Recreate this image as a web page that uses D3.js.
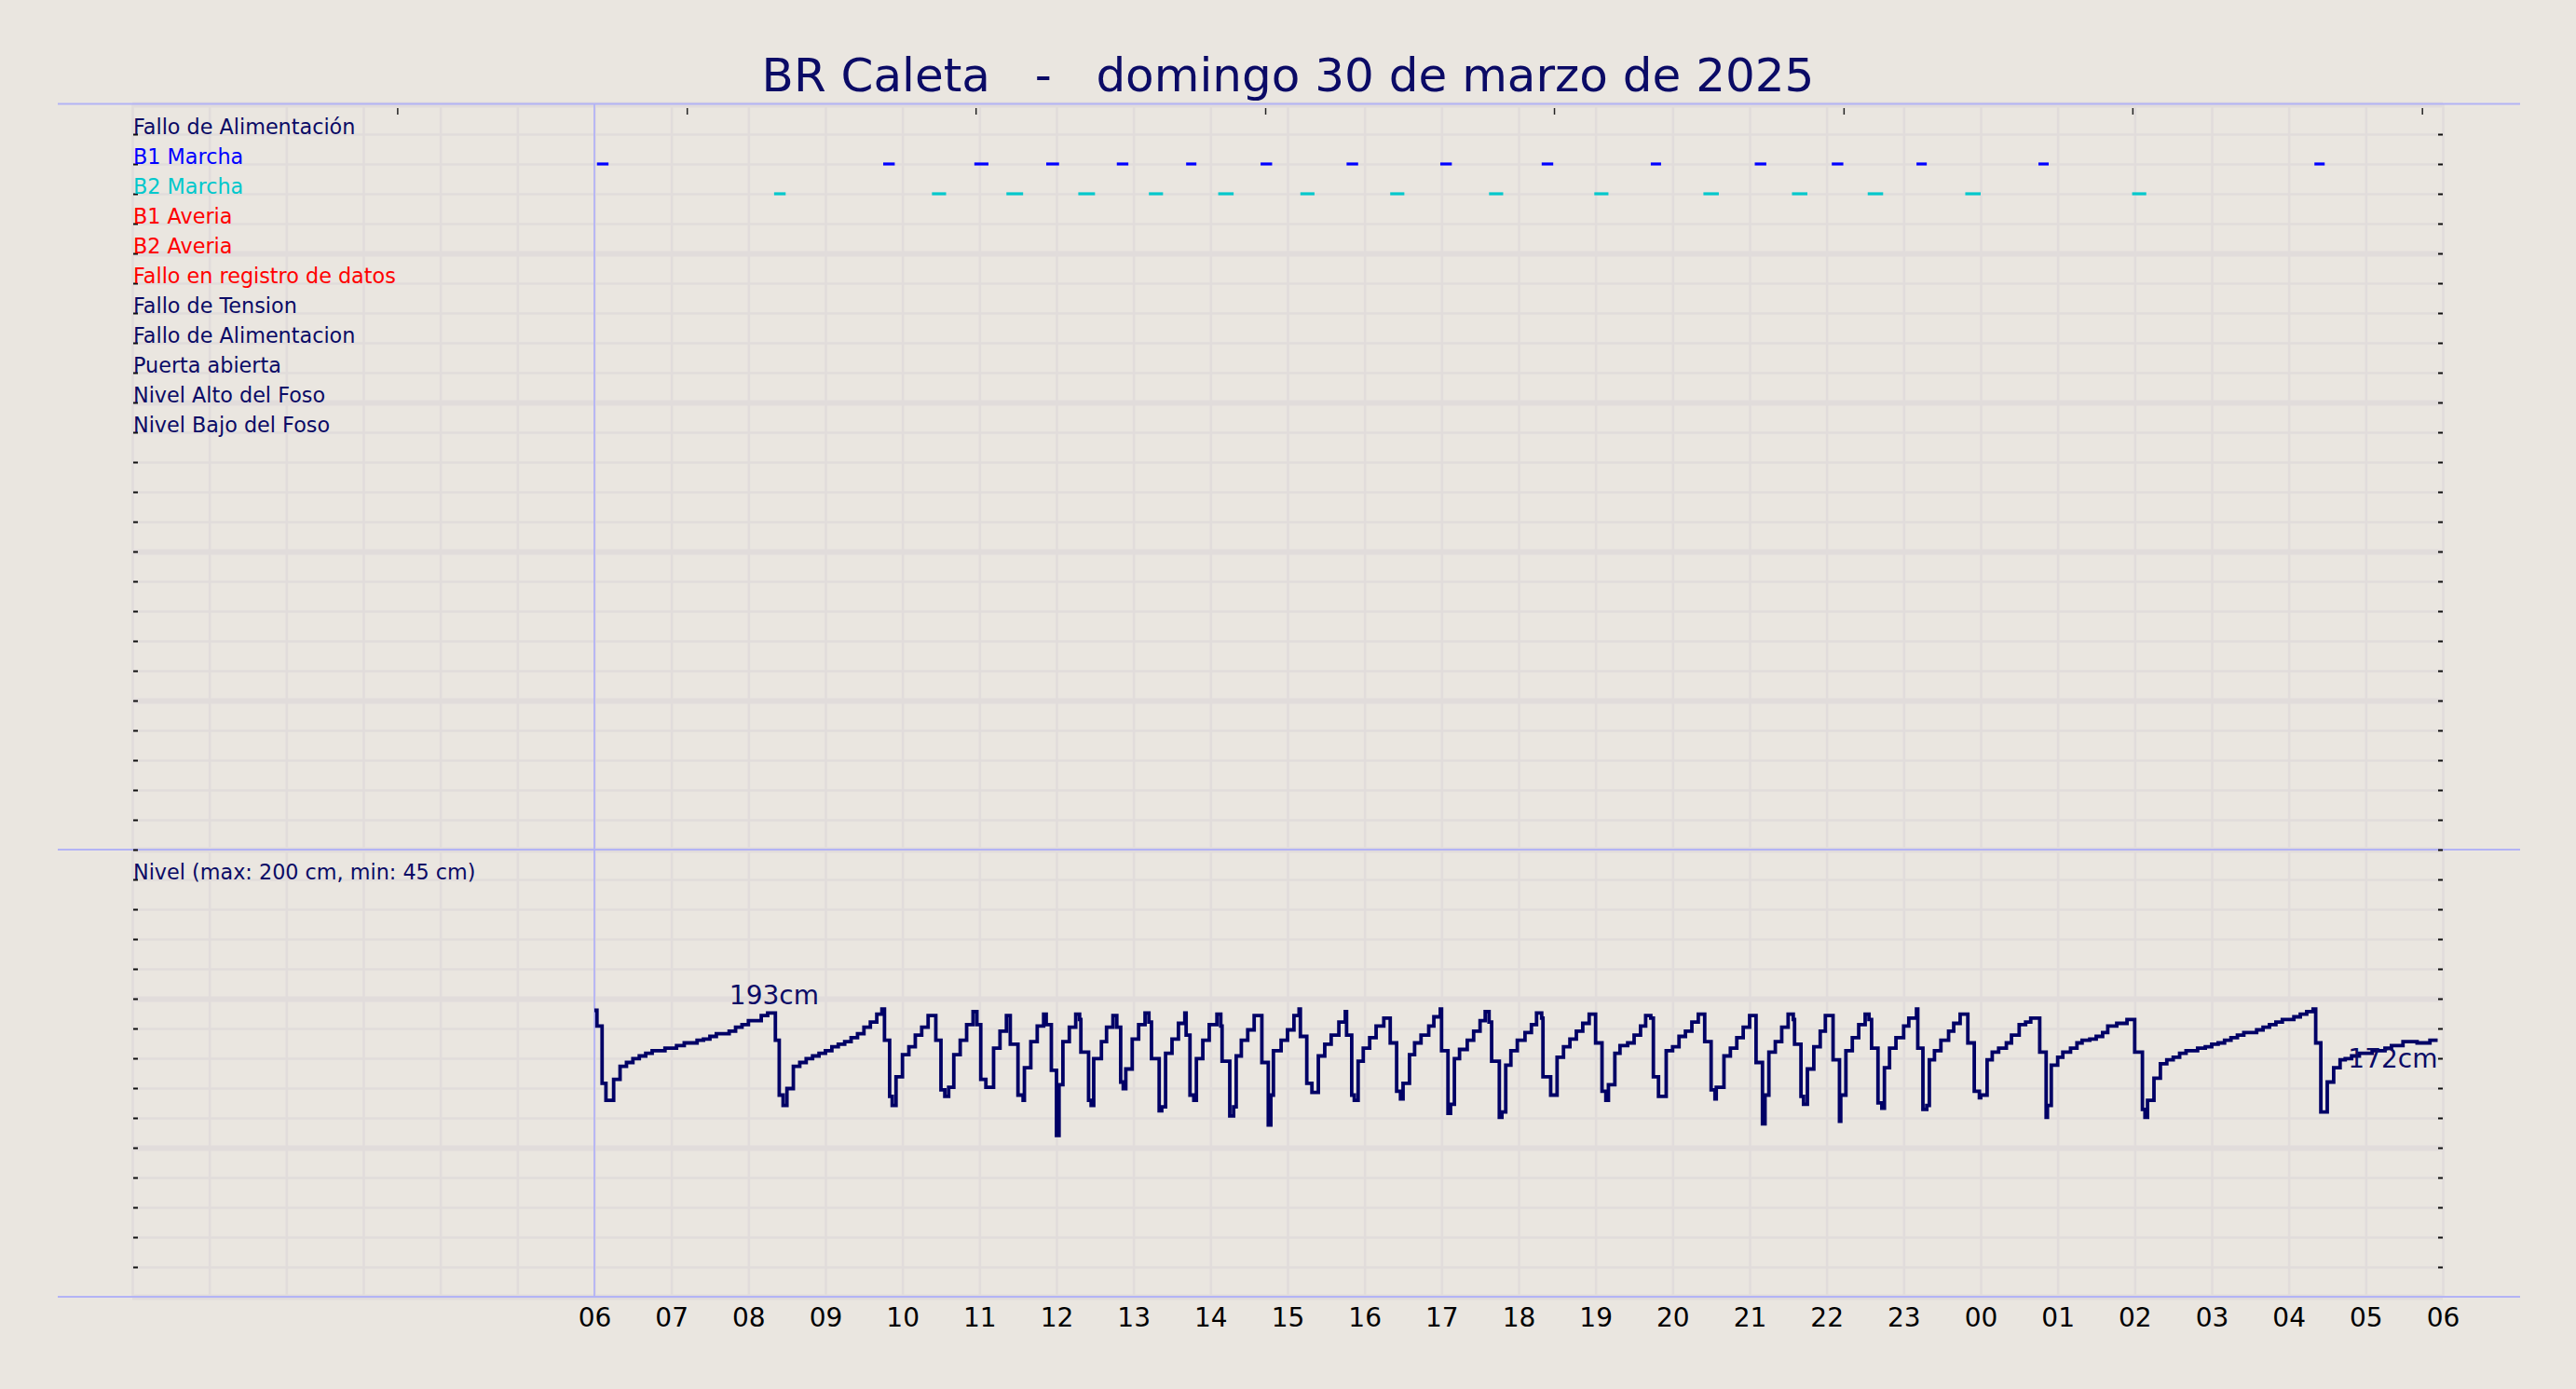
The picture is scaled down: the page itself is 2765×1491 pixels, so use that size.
<!DOCTYPE html>
<html>
<head>
<meta charset="utf-8">
<script src="https://cdn.jsdelivr.net/npm/d3@7"></script>
<style>
  body { margin: 0; background: #eae6e0; }
  svg { display: block; font-family: "DejaVu Sans", sans-serif; }
</style>
</head>
<body>
<svg id="chart" width="2765" height="1491"></svg>
<script>
const title = "BR Caleta   -   domingo 30 de marzo de 2025";

const eventLabels = [
  "Fallo de Alimentación",
  "B1 Marcha",
  "B2 Marcha",
  "B1 Averia",
  "B2 Averia",
  "Fallo en registro de datos",
  "Fallo de Tension",
  "Fallo de Alimentacion",
  "Puerta abierta",
  "Nivel Alto del Foso",
  "Nivel Bajo del Foso",
];
const eventColors = [
  "#0b0b66", "#0000ff", "#00c8cc", "#ff0000", "#ff0000", "#ff0000",
  "#0b0b66", "#0b0b66", "#0b0b66", "#0b0b66", "#0b0b66",
];

// pump runs [start, end]
const b1Runs = [
  ["06:02", "06:11"], ["09:45", "09:54"], ["10:56", "11:07"], ["11:52", "12:02"],
  ["12:47", "12:56"], ["13:41", "13:49"], ["14:39", "14:48"], ["15:46", "15:55"],
  ["16:59", "17:08"], ["18:18", "18:27"], ["19:43", "19:51"], ["21:04", "21:13"],
  ["22:04", "22:13"], ["23:10", "23:18"], ["00:45", "00:53"], ["04:20", "04:28"],
];
const b2Runs = [
  ["08:20", "08:29"], ["10:23", "10:34"], ["11:21", "11:34"], ["12:17", "12:30"],
  ["13:12", "13:23"], ["14:06", "14:18"], ["15:10", "15:21"], ["16:20", "16:31"],
  ["17:37", "17:48"], ["18:59", "19:10"], ["20:24", "20:36"], ["21:33", "21:45"],
  ["22:32", "22:44"], ["23:48", "00:00"], ["01:58", "02:09"],
];

// level readings (cm)
const levelTimes = [
  "06:00","06:02","06:06","06:09","06:15","06:20","06:25","06:30","06:35","06:40",
  "06:45","06:55","07:04","07:10","07:20","07:25","07:30","07:35","07:45","07:50",
  "07:55","08:00","08:10","08:15","08:21","08:24","08:27","08:30","08:35","08:40",
  "08:45","08:50","08:55","09:00","09:05","09:10","09:15","09:20","09:25","09:30",
  "09:35","09:40","09:44","09:46","09:50","09:52","09:55","10:00","10:05","10:10",
  "10:15","10:20","10:26","10:30","10:33","10:36","10:40","10:45","10:50","10:55",
  "10:58","11:01","11:05","11:11","11:16","11:21","11:24","11:30","11:34","11:35",
  "11:40","11:45","11:50","11:52","11:56","12:00","12:02","12:05","12:10","12:15",
  "12:18","12:19","12:25","12:27","12:29","12:35","12:39","12:44","12:47","12:50",
  "12:52","12:54","12:59","13:04","13:09","13:12","13:14","13:20","13:22","13:25",
  "13:30","13:35","13:40","13:41","13:44","13:47","13:49","13:54","13:59","14:05",
  "14:08","14:09","14:15","14:18","14:20","14:24","14:29","14:34","14:40","14:45",
  "14:47","14:49","14:55","15:00","15:05","15:09","15:10","15:15","15:19","15:24",
  "15:29","15:34","15:40","15:45","15:46","15:50","15:52","15:55","15:59","16:04",
  "16:09","16:15","16:20","16:25","16:28","16:30","16:35","16:39","16:44","16:50",
  "16:54","16:59","17:00","17:05","17:07","17:10","17:14","17:20","17:25","17:30",
  "17:34","17:37","17:39","17:45","17:47","17:50","17:54","17:59","18:05","18:10",
  "18:14","18:18","18:19","18:25","18:30","18:35","18:40","18:45","18:50","18:55",
  "19:00","19:05","19:08","19:10","19:15","19:19","19:25","19:30","19:35","19:39",
  "19:43","19:45","19:49","19:55","20:00","20:05","20:10","20:15","20:20","20:25",
  "20:30","20:33","20:34","20:40","20:45","20:50","20:55","21:00","21:05","21:10",
  "21:12","21:15","21:20","21:25","21:30","21:34","21:35","21:40","21:42","21:45",
  "21:50","21:55","21:59","22:05","22:10","22:11","22:15","22:20","22:25","22:30",
  "22:33","22:35","22:40","22:43","22:45","22:49","22:54","23:00","23:04","23:10",
  "23:11","23:15","23:18","23:20","23:24","23:29","23:35","23:39","23:44","23:50",
  "23:55","23:59","00:00","00:05","00:09","00:14","00:20","00:24","00:30","00:35",
  "00:39","00:46","00:51","00:52","00:55","01:00","01:04","01:10","01:15","01:19",
  "01:25","01:30","01:35","01:39","01:46","01:54","02:00","02:06","02:08","02:10",
  "02:15","02:20","02:25","02:30","02:35","02:40","02:49","02:55","03:00","03:05",
  "03:10","03:15","03:20","03:25","03:35","03:40","03:45","03:50","03:55","04:04",
  "04:09","04:14","04:19","04:21","04:25","04:30","04:35","04:40","04:44","04:49",
  "04:55","05:05","05:15","05:20","05:29","05:40","05:50","05:56",
];
const levelValues = [
  195,183,139,126,142,152,155,158,160,162,
  164,166,168,170,172,173,175,177,179,182,
  184,187,191,193,172,130,122,135,152,155,
  158,160,162,164,167,169,171,174,177,182,
  186,192,196,172,129,122,144,161,167,176,
  182,191,172,134,129,136,161,172,184,194,
  184,142,136,166,179,191,169,130,126,151,
  171,183,192,184,149,99,138,171,182,192,
  188,163,126,122,158,171,182,191,182,140,
  135,150,173,184,193,186,158,118,121,162,
  173,185,193,176,130,126,158,172,184,192,
  183,156,114,121,160,172,180,191,155,107,
  130,164,172,180,191,196,175,139,132,160,
  169,176,186,194,176,130,126,156,166,174,
  183,189,170,133,127,139,161,170,176,183,
  190,196,164,116,123,158,165,172,179,187,
  194,186,156,113,117,153,164,172,178,184,
  193,189,144,130,159,167,173,179,185,192,
  170,133,126,138,162,168,170,176,183,191,
  189,144,129,164,167,175,179,186,192,171,
  134,127,136,160,166,174,182,191,155,108,
  130,163,171,182,192,188,169,129,123,150,
  167,179,191,157,110,130,164,174,184,192,
  188,166,124,120,151,166,174,183,189,196,
  166,119,122,157,164,172,179,185,192,170,
  133,128,130,157,163,166,170,176,184,186,
  189,163,113,122,153,159,163,166,170,172,
  173,175,178,183,185,188,163,119,113,126,
  143,154,157,159,162,164,166,167,169,170,
  172,174,176,178,180,182,184,186,188,190,
  192,194,196,170,117,140,151,157,158,160,
  162,164,166,168,171,170,172,172,
];

const levelMin = 45;
const levelMax = 200;
const peakNote = { time: "08:20", value: 193 };

const hourTicks = d3.range(6, 31);
const topTicks = [3.44, 7.2, 10.95, 14.71, 18.46, 22.22, 25.97, 29.73];

// ---------------------------------------------------------------
const toHours = (s) => {
  const [h, m] = s.split(":").map(Number);
  return (h < 6 ? h + 24 : h) + m / 60;
};

const W = 2765;
const plotLeft = 142, plotRight = 2622, plotTop = 112, plotBottom = 1392, plotSplit = 912;
const navy = "#0b0b66";

const svg = d3.select("#chart");
svg.append("rect").attr("width", W).attr("height", 1491).attr("fill", "#eae6e0");

const x = d3.scaleLinear().domain([0, 30]).range([plotLeft, plotRight]);
const rows = d3.scaleLinear().domain([0, 40]).range([plotTop, plotBottom]);
const y = d3.scaleLinear().domain([levelMin, levelMax]).range([1294.5, 1077.5]);

// grid
const gridColor = "#e1dcdb";
svg.append("g")
  .attr("transform", `translate(0,${plotBottom})`)
  .call(d3.axisBottom(x).tickValues(d3.range(0, 31)).tickSize(-(plotBottom - plotTop)).tickFormat(""))
  .call((g) => g.select(".domain").remove())
  .selectAll("line").attr("stroke", gridColor).attr("stroke-width", 2.6);

svg.append("g")
  .attr("transform", `translate(${plotLeft},0)`)
  .call(d3.axisLeft(rows).tickValues(d3.range(0, 41)).tickSize(-(plotRight - plotLeft)).tickFormat(""))
  .call((g) => g.select(".domain").remove())
  .selectAll("line")
  .attr("stroke", gridColor)
  .attr("stroke-width", (d) => (d % 5 === 0 ? 6 : 2.6));

// figure separator lines
const sepColor = "#b3b3f5";
[plotTop - 0.5, plotSplit, plotBottom].forEach((yy) => {
  svg.append("line")
    .attr("x1", 62).attr("x2", 2705)
    .attr("y1", yy).attr("y2", yy)
    .attr("stroke", sepColor).attr("stroke-width", 1.8);
});
svg.append("line")
  .attr("x1", x(6)).attr("x2", x(6))
  .attr("y1", plotTop).attr("y2", plotBottom)
  .attr("stroke", sepColor).attr("stroke-width", 1.8);

// inward ticks
const tickStyle = (g) => {
  g.select(".domain").remove();
  g.selectAll("line").attr("stroke", "#111").attr("stroke-width", 2);
};
svg.append("g")
  .attr("transform", `translate(${plotLeft + 1},0)`)
  .call(d3.axisRight(rows).tickValues(d3.range(1, 40)).tickSize(5).tickFormat(""))
  .call(tickStyle);
svg.append("g")
  .attr("transform", `translate(${plotRight},0)`)
  .call(d3.axisLeft(rows).tickValues(d3.range(1, 40)).tickSize(5).tickFormat(""))
  .call(tickStyle);
svg.append("g")
  .attr("transform", `translate(0,${plotTop + 4})`)
  .call(d3.axisBottom(x).tickValues(topTicks).tickSize(7).tickFormat(""))
  .call((g) => {
    g.select(".domain").remove();
    g.selectAll("line").attr("stroke", "#222").attr("stroke-width", 1.5);
  });

// hour labels
svg.append("g")
  .attr("transform", `translate(0,${plotBottom})`)
  .call(d3.axisBottom(x).tickValues(hourTicks).tickSize(0).tickPadding(12)
    .tickFormat((h) => String(h % 24).padStart(2, "0")))
  .call((g) => {
    g.select(".domain").remove();
    g.selectAll("text")
      .attr("font-size", 28)
      .attr("font-family", "DejaVu Sans")
      .attr("fill", "#000");
  });

// event labels
svg.append("g")
  .selectAll("text")
  .data(eventLabels)
  .join("text")
  .attr("x", plotLeft + 1)
  .attr("y", (d, i) => rows(i + 1))
  .attr("font-size", 22.3)
  .attr("fill", (d, i) => eventColors[i])
  .text((d) => d);

// pump run marks
[[b1Runs, 1], [b2Runs, 2]].forEach(([runs, row]) => {
  svg.append("g")
    .selectAll("line")
    .data(runs)
    .join("line")
    .attr("x1", (d) => x(toHours(d[0])))
    .attr("x2", (d) => x(toHours(d[1])))
    .attr("y1", rows(row + 1))
    .attr("y2", rows(row + 1))
    .attr("stroke", eventColors[row])
    .attr("stroke-width", 3.2);
});

// level panel
svg.append("text")
  .attr("x", plotLeft + 1)
  .attr("y", rows(26))
  .attr("font-size", 22.3)
  .attr("fill", navy)
  .text(`Nivel (max: ${levelMax} cm, min: ${levelMin} cm)`);

const level = levelTimes.map((t, i) => ({ t: toHours(t), v: levelValues[i] }));

svg.append("path")
  .datum(level)
  .attr("fill", "none")
  .attr("stroke", "#000066")
  .attr("stroke-width", 3.8)
  .attr("d", d3.line().x((d) => x(d.t)).y((d) => y(d.v)).curve(d3.curveStepAfter));

svg.append("text")
  .attr("x", x(toHours(peakNote.time)))
  .attr("y", y(peakNote.value) - 9)
  .attr("text-anchor", "middle")
  .attr("font-size", 28)
  .attr("fill", navy)
  .text(peakNote.value + "cm");

const last = level[level.length - 1];
svg.append("text")
  .attr("x", x(last.t))
  .attr("y", y(last.v) + 29)
  .attr("text-anchor", "end")
  .attr("font-size", 28)
  .attr("fill", navy)
  .text(last.v + "cm");

// title
svg.append("text")
  .attr("x", W / 2)
  .attr("y", 98)
  .attr("text-anchor", "middle")
  .attr("font-size", 50)
  .attr("fill", navy)
  .attr("xml:space", "preserve")
  .style("white-space", "pre")
  .text(title);
</script>
</body>
</html>
